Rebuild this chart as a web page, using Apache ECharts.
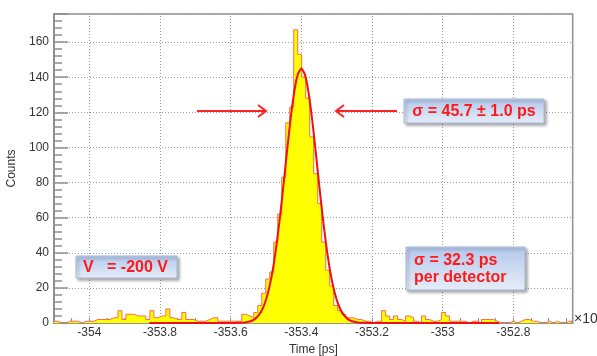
<!DOCTYPE html>
<html>
<head>
<meta charset="utf-8">
<script src="https://cdn.jsdelivr.net/npm/echarts@6/dist/echarts.min.js"></script>
<style>html,body{margin:0;padding:0;background:#fff;}#c{width:597px;height:356px;}</style>
</head>
<body>
<div id="c"></div>
<script>
// ---- data ----
const binStart = -354.1;
const binWidth = 0.011308;
const counts = [
 1,0,0,1,1,1,0,1,1,1,
 2,2,2,2,3,3,7,2,5,5,
 4,4,4,2,7,3,4,4,8,3,
 2,2,6,2,2,1,1,1,2,3,
 3,1,1,1,1,1,1,5,4,3,
 6,10,17,25,29,46,62,83,114,123,
 167,153,140,128,106,85,68,46,30,21,
 10,7,5,3,3,2,2,1,1,0,
 1,1,7,4,2,4,2,1,4,3,
 1,0,4,2,1,1,2,6,4,1,
 1,1,1,0,1,1,0,2,2,2,
 1,0,0,0,1,0,1,2,2,1,
 1,0,0,1,0,1,0,0,1,1
];
const fitX = [-353.83,-353.70,-353.60,-353.58,-353.56,
 -353.55,-353.54,-353.53,-353.52,-353.51,-353.50,-353.49,-353.48,-353.47,-353.46,
 -353.45,-353.44,-353.43,-353.42,-353.41,-353.40,-353.39,-353.38,-353.37,-353.36,
 -353.35,-353.34,-353.33,-353.32,-353.31,-353.30,-353.29,-353.28,-353.27,-353.26,-353.25,
 -353.24,-353.22,-353.20,-353.10,-352.84];
const fitY = [0,0,0,0.1,0.3,
 0.7,1.3,2.5,4.6,8.0,13.2,20.9,31.3,44.9,61.2,
 79.7,98.9,116.9,131.8,141.6,145,141.6,131.8,116.9,98.9,
 79.7,61.2,44.9,31.3,20.9,13.2,8.0,4.6,2.5,1.3,0.7,
 0.3,0.1,0,0,0];
const xTicks = [-354, -353.8, -353.6, -353.4, -353.2, -353, -352.8];
const xMin = -354.1, xMax = -352.632;
const yMin = 0, yMax = 176;

// ---- build ----
const histData = counts.map((c, k) => [binStart + k * binWidth, c]);
histData.push([binStart + counts.length * binWidth, counts[counts.length - 1]]);
const fitData = fitX.map((x, i) => [x, fitY[i]]);

const font = '"Liberation Sans", Arial, sans-serif';
const boxFill = () => new echarts.graphic.LinearGradient(0, 0, 0, 1, [
  {offset: 0, color: '#b3c8ec'}, {offset: 1, color: '#e6edf8'}]);
const boxStyle = () => ({fill: boxFill(), stroke: '#a9bbdc', lineWidth: 1,
  shadowBlur: 3, shadowOffsetX: 2, shadowOffsetY: 2, shadowColor: 'rgba(0,0,0,0.35)'});
const redText = (t, x, y, align) => ({type: 'text', z: 101, style: {text: t, x: x, y: y,
  fill: '#ff1a1a', font: 'bold 16px ' + font, textAlign: align || 'left', textVerticalAlign: 'middle'}});

const chart = echarts.init(document.getElementById('c'), null, {renderer: 'canvas'});
chart.setOption({
  animation: false,
  backgroundColor: '#fff',
  grid: {left: 54, top: 14, right: 24.3, bottom: 33, show: true, borderColor: '#8f8f8f', borderWidth: 1.5,
    backgroundColor: 'transparent', containLabel: false, outerBoundsMode: 'none'},
  xAxis: {
    type: 'value', min: xMin, max: xMax, interval: 0.05,
    name: 'Time [ps]', nameLocation: 'middle', nameGap: 20,
    nameTextStyle: {fontFamily: font, fontSize: 12, color: '#333'},
    axisLine: {show: true, lineStyle: {color: '#8f8f8f', width: 1.5}},
    axisTick: {show: true, inside: true, length: 5, lineStyle: {color: '#8f8f8f', width: 1}},
    splitLine: {show: false},
    axisLabel: {fontFamily: font, fontSize: 12, color: '#333', margin: 4, hideOverlap: false,
      formatter: v => (Math.abs(v * 5 - Math.round(v * 5)) < 1e-6) ? String(Math.round(v * 10) / 10) : ''}
  },
  yAxis: {
    type: 'value', min: yMin, max: yMax, interval: 20,
    name: 'Counts', nameLocation: 'middle', nameGap: 32,
    nameTextStyle: {fontFamily: font, fontSize: 12, color: '#333'},
    axisLine: {show: true, lineStyle: {color: '#8f8f8f', width: 2}},
    axisTick: {show: true, inside: true, length: 14, lineStyle: {color: '#8f8f8f', width: 1.5}},
    minorTick: {show: true, splitNumber: 5, length: 8, lineStyle: {color: '#8f8f8f', width: 1.5}},
    splitLine: {show: true, lineStyle: {color: '#9a9a9a', width: 1, type: [1, 2]}},
    axisLabel: {fontFamily: font, fontSize: 12, color: '#333', margin: 5,
      formatter: v => (v % 20 === 0) ? String(v) : ''}
  },
  series: [
    {
      type: 'line', data: [[xMin, 0]], symbol: 'none', silent: true, z: 1,
      lineStyle: {opacity: 0},
      markLine: {silent: true, symbol: 'none', z: 1, label: {show: false},
        lineStyle: {color: '#9a9a9a', width: 1, type: [1, 2]},
        data: xTicks.map(t => ({xAxis: t}))}
    },
    {
      type: 'line', data: histData, step: 'end', symbol: 'none', z: 3,
      lineStyle: {color: '#ff6a4a', width: 1},
      areaStyle: {color: '#ffff00', opacity: 1}
    },
    {
      type: 'line', data: fitData, symbol: 'none', smooth: 0.2, z: 4,
      lineStyle: {color: '#ee1111', width: 2}
    }
  ],
  graphic: [
    {type: 'polyline', z: 100, shape: {points: [[197, 111], [266, 111]]}, style: {stroke: '#ff2222', lineWidth: 2, fill: null}},
    {type: 'polyline', z: 100, shape: {points: [[258, 105], [266, 111], [258, 117]]}, style: {stroke: '#ff2222', lineWidth: 2, fill: null}},
    {type: 'polyline', z: 100, shape: {points: [[336, 111], [397, 111]]}, style: {stroke: '#ff2222', lineWidth: 2, fill: null}},
    {type: 'polyline', z: 100, shape: {points: [[344, 105], [336, 111], [344, 117]]}, style: {stroke: '#ff2222', lineWidth: 2, fill: null}},
    {type: 'rect', z: 100, shape: {x: 404, y: 99, width: 140, height: 24}, style: boxStyle()},
    redText('σ = 45.7 ± 1.0 ps', 474, 111.5, 'center'),
    {type: 'rect', z: 100, shape: {x: 76, y: 256, width: 101, height: 22}, style: boxStyle()},
    redText('V   = -200 V', 83, 267.5, 'left'),
    {type: 'rect', z: 100, shape: {x: 406, y: 247, width: 119, height: 43}, style: boxStyle()},
    redText('σ = 32.3 ps', 414, 261, 'left'),
    redText('per detector', 414, 278, 'left'),
    {type: 'text', z: 100, style: {text: '×10³', x: 574, y: 319, fill: '#333', font: '14px ' + font, textVerticalAlign: 'middle'}}
  ]
});
</script>
</body>
</html>
